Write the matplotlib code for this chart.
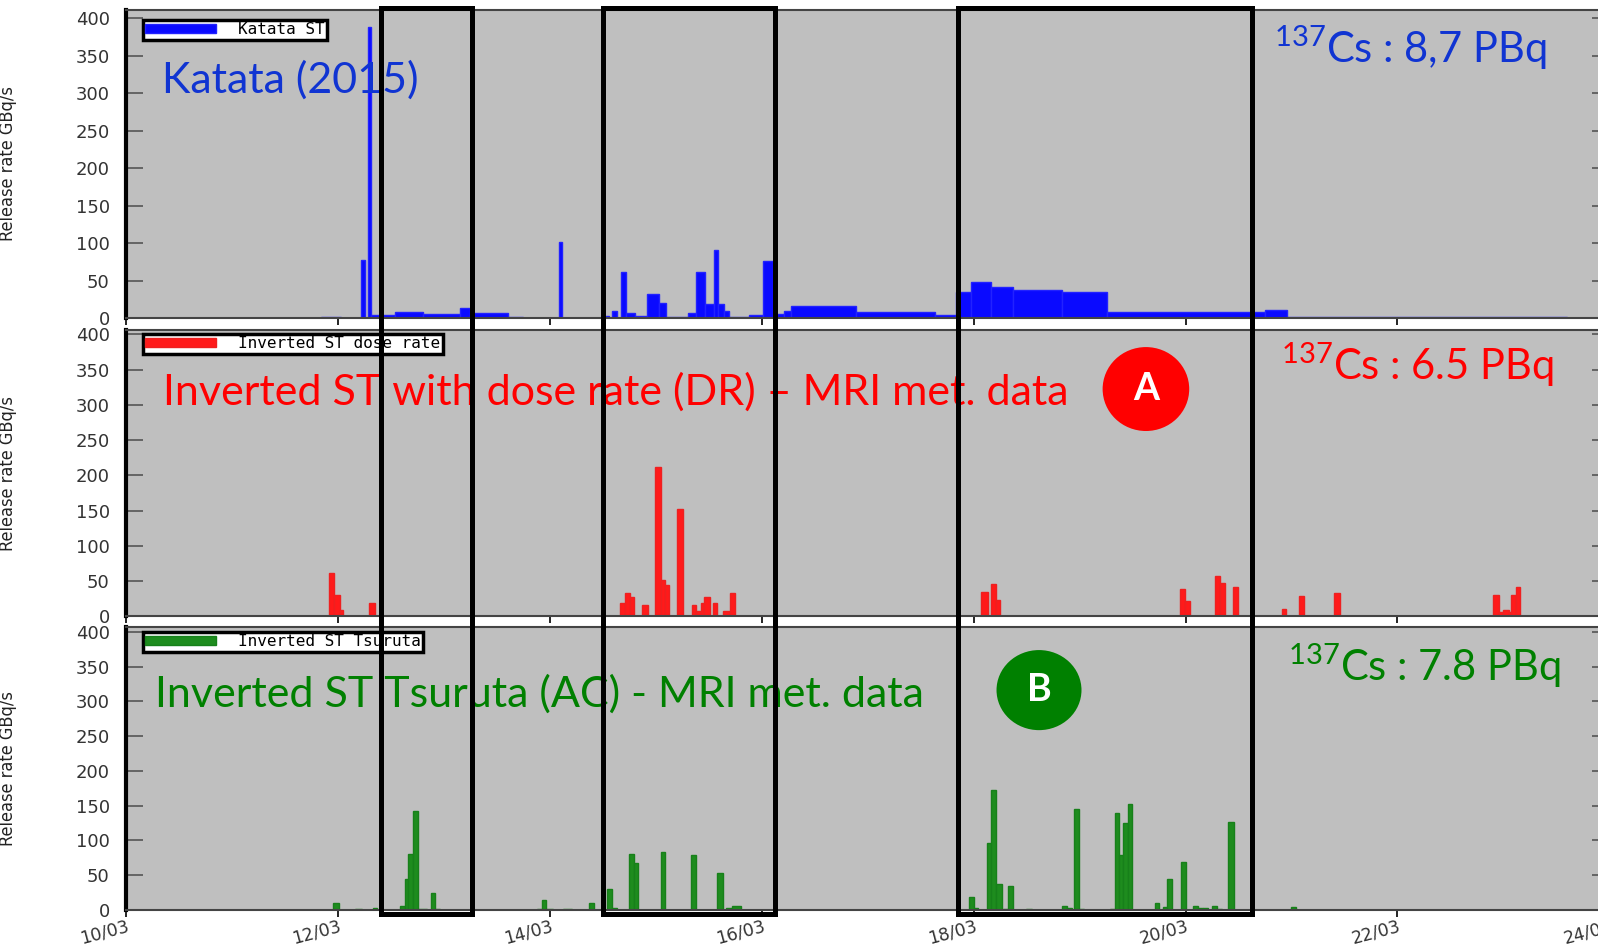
import matplotlib
matplotlib.use("Agg")
import matplotlib.pyplot as plt
from matplotlib.patches import Rectangle, Ellipse
from matplotlib.transforms import blended_transform_factory

plt.rcParams["mathtext.fontset"] = "custom"
plt.rcParams["mathtext.rm"] = "Lato"
plt.rcParams["mathtext.it"] = "Lato:italic"
plt.rcParams["mathtext.bf"] = "Lato:bold"

# ---- data: release blocks, time in days of March 2011, rate in GBq/s ----
katata_start = [11.84, 12.215, 12.278, 12.309, 12.536, 12.80, 13.149, 13.244, 13.60, 14.083,
                14.52, 14.586, 14.669, 14.719, 14.801, 14.917, 15.032, 15.09, 15.30, 15.381,
                15.464, 15.547, 15.587, 15.646, 15.686, 15.878, 16.010, 16.142, 16.208, 16.274,
                16.888, 17.633, 17.831, 17.972, 18.165, 18.374, 18.837, 19.257, 20.749, 20.960]
katata_end = [12.03, 12.252, 12.309, 12.536, 12.80, 13.149, 13.244, 13.60, 13.742, 14.116,
              14.553, 14.636, 14.719, 14.801, 14.917, 15.032, 15.09, 15.30, 15.381, 15.464,
              15.547, 15.587, 15.646, 15.686, 15.878, 16.010, 16.103, 16.208, 16.274, 16.888,
              17.633, 17.831, 17.972, 18.165, 18.374, 18.837, 19.257, 20.749, 20.960, 23.60]
katata_rate = [1, 78, 389, 4, 7.5, 5, 13, 7, 1, 102,
               3, 10, 62, 7, 2.5, 32, 20, 2, 7, 61,
               19, 91, 19, 10, 1, 4, 76, 5, 10, 16,
               8, 4, 35, 48, 41, 38, 35, 8, 11, 1]

dose_start = [11.915, 11.960, 12.017, 12.293, 14.660, 14.707, 14.754, 14.865, 14.990, 15.044,
              15.085, 15.201, 15.337, 15.377, 15.421, 15.453, 15.535, 15.629, 15.698, 18.069,
              18.160, 18.207, 19.948, 19.992, 20.280, 20.327, 20.447, 20.906, 21.069, 21.400,
              22.904, 22.954, 23.000, 23.048, 23.074, 23.121]
dose_end = [11.960, 12.017, 12.048, 12.344, 14.707, 14.754, 14.792, 14.927, 15.044, 15.085,
            15.125, 15.252, 15.377, 15.421, 15.453, 15.509, 15.578, 15.698, 15.745, 18.135,
            18.207, 18.251, 19.992, 20.039, 20.327, 20.375, 20.497, 20.952, 21.116, 21.455,
            22.954, 23.000, 23.048, 23.074, 23.121, 23.156]
dose_rate = [61, 30, 9, 19, 19, 33, 28, 17, 212, 52,
             45, 152, 17, 8, 19, 28, 19, 8, 33, 35,
             46, 23, 39, 22, 57, 48, 42, 10, 29, 34,
             30, 6, 9, 6, 30, 42]

tsuruta_start = [11.953, 12.158, 12.331, 12.583, 12.630, 12.661, 12.708, 12.756, 12.873, 12.916,
                 13.873, 13.920, 13.961, 14.124, 14.370, 14.534, 14.581, 14.747, 14.792, 15.044,
                 15.327, 15.573, 15.660, 15.714, 17.957, 18.001, 18.121, 18.162, 18.209, 18.278,
                 18.326, 18.492, 18.829, 18.876, 18.946, 18.996, 19.285, 19.332, 19.373, 19.411,
                 19.458, 19.711, 19.783, 19.821, 19.953, 20.072, 20.119, 20.160, 20.245, 20.293,
                 20.402, 20.991]
tsuruta_end = [12.010, 12.221, 12.369, 12.630, 12.661, 12.708, 12.756, 12.835, 12.916, 12.960,
               13.920, 13.961, 14.030, 14.204, 14.417, 14.581, 14.629, 14.792, 14.832, 15.085,
               15.377, 15.629, 15.714, 15.799, 18.001, 18.042, 18.162, 18.209, 18.263, 18.326,
               18.373, 18.546, 18.876, 18.924, 18.996, 19.040, 19.332, 19.373, 19.411, 19.458,
               19.496, 19.752, 19.821, 19.873, 20.003, 20.119, 20.160, 20.213, 20.293, 20.340,
               20.456, 21.041]
tsuruta_rate = [10, 2, 3, 6, 45, 81, 143, 2, 24, 1,
                2, 15, 1, 1, 10, 30, 3, 81, 67, 84,
                79, 53, 3, 5, 19, 3, 96, 172, 37, 2,
                35, 1, 6, 3, 145, 2, 2, 140, 79, 125,
                152, 10, 4, 45, 69, 5, 3, 3, 5, 2,
                126, 4]

date_ticks = [10, 12, 14, 16, 18, 20, 22, 24]
date_labels = ["10/03", "12/03", "14/03", "16/03", "18/03", "20/03", "22/03", "24/03"]
y_ticks = [0, 50, 100, 150, 200, 250, 300, 350, 400]

# highlighted periods (days of March)
box_start = [12.40, 14.50, 17.851]
box_end = [13.26, 16.123, 20.623]

panels = [
    dict(start=katata_start, end=katata_end, rate=katata_rate, color="#0a0aff", edge="#2222ff",
         legend="Katata ST", bottom=0.6642, height=0.3252, ytop=411, leg_y=0.968,
         title="Katata (2015)", title_xy=(0.0238, 0.7305), text_color="#1034d2",
         total=r"$^{137}$Cs : 8,7 PBq", total_xy=(0.7738, 0.827), badge=None),
    dict(start=dose_start, end=dose_end, rate=dose_rate, color="#ff1a1a", edge="#ee2020",
         legend="Inverted ST dose rate", bottom=0.349, height=0.3025, ytop=406, leg_y=0.986,
         title="Inverted ST with dose rate (DR) \u2013 MRI met. data", title_xy=(0.025, 0.738),
         text_color="#ff0000", total=r"$^{137}$Cs : 6.5 PBq", total_xy=(0.7784, 0.8255),
         badge=("A", "#ff0000", (0.6875, 0.794), 0.0584, 0.293)),
    dict(start=tsuruta_start, end=tsuruta_end, rate=tsuruta_rate, color="#1e8c1e", edge="#17801a",
         legend="Inverted ST Tsuruta", bottom=0.0391, height=0.2988, ytop=407, leg_y=0.982,
         title="Inverted ST Tsuruta (AC) - MRI met. data", title_xy=(0.0193, 0.717),
         text_color="#008000", total=r"$^{137}$Cs : 7.8 PBq", total_xy=(0.7833, 0.809),
         badge=("B", "#008000", (0.6154, 0.777), 0.0573, 0.283)),
]

fig = plt.figure(figsize=(15.98, 9.47), dpi=100)
axes = []

for i, p in enumerate(panels):
    ax = fig.add_axes([0.0791, p["bottom"], 0.928, p["height"]])
    ax.set_facecolor("#bfbfbf")
    widths = [e - s for s, e in zip(p["start"], p["end"])]
    ax.bar(p["start"], p["rate"], width=widths, align="edge", color=p["color"],
           edgecolor=p["edge"], linewidth=1.0, label=p["legend"])
    ax.set_xlim(10, 24)
    ax.set_ylim(0, p["ytop"])
    ax.set_yticks(y_ticks)
    ax.set_xticks(date_ticks)

    for side in ["top", "bottom", "right"]:
        ax.spines[side].set_color("#444444")
        ax.spines[side].set_linewidth(1.5)
    ax.spines["left"].set_color("black")
    ax.spines["left"].set_linewidth(3)

    ax.tick_params(axis="y", which="major", direction="in", length=12, width=1.2,
                   color="#555555", pad=12, labelsize=13, labelcolor="#333333",
                   right=True)
    ax.tick_params(axis="x", which="major", direction="out", length=5, width=1.2,
                   color="black", labelsize=12.5, labelcolor="#333333", top=False)

    ax.set_ylabel("Release rate GBq/s", family="DejaVu Sans", fontstretch="condensed",
                  fontsize=13, color="#222222")
    ax.yaxis.set_label_coords(-0.0738, 0.5)

    if i < 2:
        ax.tick_params(axis="x", labelbottom=False)
    else:
        ax.set_xticklabels(date_labels, rotation=15, ha="right", rotation_mode="anchor")
        ax.tick_params(axis="x", pad=0)

    leg = ax.legend(loc="upper left", bbox_to_anchor=(0.0112, p["leg_y"]), frameon=True,
                    fancybox=False, edgecolor="black", framealpha=1, borderaxespad=0,
                    prop={"family": "DejaVu Sans Mono", "size": 11.5},
                    handlelength=4.4, handleheight=0.5, handletextpad=1.4, borderpad=0.15)
    leg.get_frame().set_linewidth(2.5)

    ax.text(p["title_xy"][0], p["title_xy"][1], p["title"], transform=ax.transAxes,
            family="Lato", fontsize=31, color=p["text_color"], ha="left", va="baseline",
            zorder=6)
    ax.text(p["total_xy"][0], p["total_xy"][1], p["total"], transform=ax.transAxes,
            family="Lato", fontsize=30, color=p["text_color"], ha="left", va="baseline",
            zorder=6)

    if p["badge"] is not None:
        letter, bcolor, (bx, by), bw, bh = p["badge"]
        ax.add_patch(Ellipse((bx, by), bw, bh, transform=ax.transAxes, facecolor=bcolor,
                             edgecolor="none", zorder=6))
        ax.text(bx, by, letter, transform=ax.transAxes, family="Lato", fontweight="bold",
                fontsize=27, color="white", ha="center", va="center", zorder=7)
    axes.append(ax)

# black frames around the highlighted periods, spanning all three panels
trans = blended_transform_factory(axes[0].transData, fig.transFigure)
for x0, x1 in zip(box_start, box_end):
    fig.add_artist(Rectangle((x0, 0.035), x1 - x0, 0.957, transform=trans, fill=False,
                             edgecolor="black", linewidth=3.6, clip_on=False, zorder=10))

fig.savefig("out.png", dpi=100)
